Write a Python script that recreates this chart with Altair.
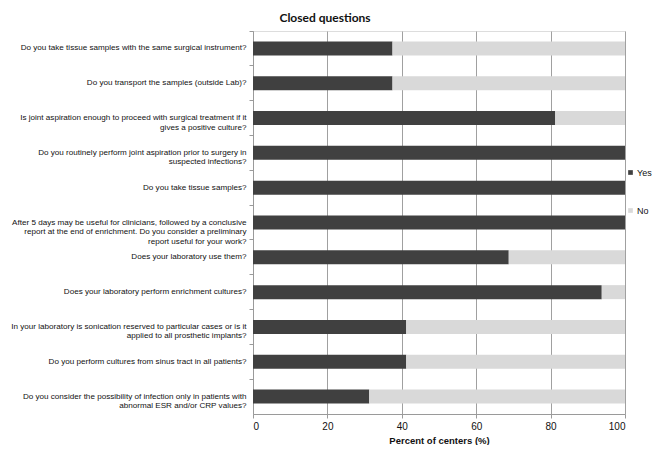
import altair as alt
import pandas as pd

questions = [
    "Do you take tissue samples with the same surgical instrument?",
    "Do you transport the samples (outside Lab)?",
    "Is joint aspiration enough to proceed with surgical treatment if it|gives a positive culture?",
    "Do you routinely perform joint aspiration prior to surgery in|suspected infections?",
    "Do you take tissue samples?",
    "After 5 days may be useful for clinicians, followed by a conclusive|report at the end of enrichment. Do you consider a preliminary|report useful for your work?",
    "Does your laboratory use them?",
    "Does your laboratory perform enrichment cultures?",
    "In your laboratory is sonication reserved to particular cases or is it|applied to all prosthetic implants?",
    "Do you perform cultures from sinus tract in all patients?",
    "Do you consider the possibility of infection only in patients with|abnormal ESR and/or CRP values?",
]
yes_pct = [37.5, 37.5, 81.25, 100, 100, 100, 68.75, 93.75, 41.2, 41.2, 31.25]
no_pct = [62.5, 62.5, 18.75, 0, 0, 0, 31.25, 6.25, 58.8, 58.8, 68.75]
answers = ["Yes", "No"]
colors = ["#404040", "#d9d9d9"]
x_ticks = [0, 20, 40, 60, 80, 100]

rows = []
for q, y, n in zip(questions, yes_pct, no_pct):
    rows.append({"question": q, "answer": "Yes", "ord": 0, "pct": y})
    rows.append({"question": q, "answer": "No", "ord": 1, "pct": n})
df = pd.DataFrame(rows)

FONT = "Liberation Sans"

chart = alt.Chart(df).mark_bar(size=14).encode(
    y=alt.Y("question:N", sort=questions,
            scale=alt.Scale(paddingInner=0, paddingOuter=0),
            axis=alt.Axis(title=None, labelExpr="split(datum.label, '|')",
                          labelFont=FONT, labelFontSize=8.1, labelColor="#111",
                          labelLimit=400, labelPadding=3, labelLineHeight=9.5,
                          tickSize=4, tickColor="#9a9a9a", domainColor="#9a9a9a",
                          bandPosition=0, grid=False)),
    x=alt.X("pct:Q", stack="zero",
            scale=alt.Scale(domain=[0, 100], nice=False),
            axis=alt.Axis(values=x_ticks, title="Percent  of  centers (%)",
                          labelFont=FONT, labelFontSize=10, labelColor="#111",
                          labelPadding=3, tickSize=4, tickColor="#9a9a9a",
                          domainColor="#9a9a9a", grid=True, gridColor="#a0a0a0",
                          titleFont=FONT, titleFontSize=9.5, titleFontWeight="bold",
                          titleColor="#111", titlePadding=4)),
    color=alt.Color("answer:N", scale=alt.Scale(domain=answers, range=colors),
                    legend=alt.Legend(title=None, orient="none", legendX=373, legendY=137,
                                      direction="vertical", symbolType="square",
                                      symbolSize=22, symbolStrokeWidth=0,
                                      labelFont=FONT, labelFontSize=9, labelColor="#111",
                                      rowPadding=28, padding=0, labelOffset=2)),
    order=alt.Order("ord:Q"),
).properties(
    width=372,
    height=383,
    title=alt.TitleParams("Closed questions", font="Lato", fontSize=12, fontWeight="bold",
                          color="#111", anchor="middle", dx=-114, offset=6),
    autosize=alt.AutoSizeParams(type="none"),
    padding={"left": 245, "top": 23, "right": 27, "bottom": 31},
).configure_view(stroke=None).configure(background="white")

chart.save("out.html", embed_options={"renderer": "svg", "actions": False})
